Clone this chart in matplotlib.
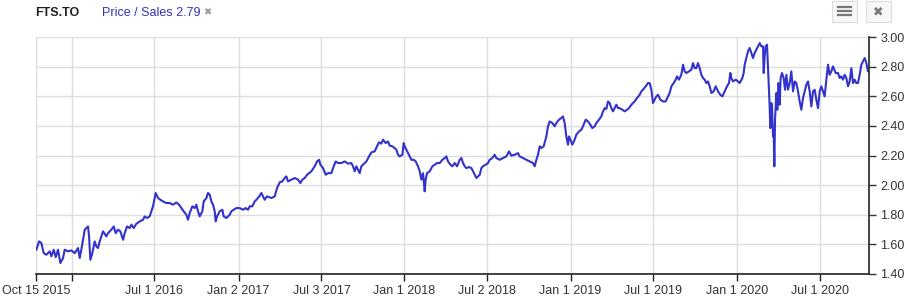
import numpy as np
import pandas as pd
import matplotlib
matplotlib.use("Agg")
import matplotlib.pyplot as plt
import matplotlib.dates as mdates
from matplotlib.patches import Rectangle

# data: days after Oct 15 2015 and the price/sales ratio
start = pd.Timestamp("2015-10-15")

day_offset = [
    0.8, 6.7, 11.8, 16.9, 22.8, 30.1, 33.8, 38.9, 43.3, 48.4, 53.5, 59.4, 63.0, 70.4, 77.7,
    85.0, 92.3, 96.0, 99.6, 103.3, 107.0, 114.3, 116.5, 119.4, 123.8, 128.9, 132.6, 136.2,
    139.9, 147.2, 154.5, 158.2, 165.5, 170.7, 175.0, 180.2, 185.3, 191.2, 194.8, 199.9, 205.8,
    209.5, 214.6, 220.4, 227.8, 235.1, 238.7, 243.9, 249.7, 253.4, 257.0, 262.9, 268.0, 273.2,
    279.0, 286.3, 293.6, 301.0, 308.3, 314.1, 319.3, 324.4, 330.3, 333.9, 337.6, 343.4, 348.6,
    352.2, 355.9, 359.5, 365.4, 368.3, 374.2, 377.8, 381.5, 385.2, 388.8, 392.5, 394.7, 397.6,
    403.5, 409.3, 412.3, 418.1, 425.4, 429.1, 434.2, 440.1, 447.4, 454.7, 460.6, 465.7, 469.4,
    475.2, 480.3, 484.0, 491.3, 495.0, 498.6, 502.3, 507.4, 516.9, 524.3, 529.4, 535.3, 541.1,
    546.2, 549.9, 553.5, 560.9, 568.2, 575.5, 580.6, 585.0, 590.2, 595.3, 599.7, 604.8, 612.1,
    617.3, 621.7, 624.6, 630.4, 636.3, 641.4, 648.7, 653.8, 658.2, 663.3, 670.7, 678.0, 685.3,
    692.6, 696.3, 700.0, 703.6, 707.3, 711.0, 714.6, 718.3, 725.6, 731.5, 736.6, 743.9, 749.0,
    753.4, 758.5, 762.2, 768.1, 773.2, 776.9, 782.7, 787.8, 791.5, 795.2, 798.8, 804.7, 807.6,
    809.8, 813.5, 817.1, 820.8, 824.5, 829.6, 834.0, 839.1, 842.8, 846.4, 850.1, 853.7, 855.9,
    858.9, 864.7, 870.6, 875.7, 880.9, 886.7, 892.6, 897.7, 901.3, 905.0, 910.1, 914.5, 919.6,
    924.8, 930.6, 934.3, 938.0, 941.6, 945.3, 951.2, 956.3, 959.9, 963.6, 967.3, 970.9, 974.6,
    978.2, 981.8, 987.7, 992.8, 996.5, 1002.3, 1007.4, 1011.1, 1018.4, 1025.7, 1033.1, 1038.9,
    1044.0, 1051.4, 1058.7, 1062.3, 1069.7, 1077.0, 1084.3, 1091.6, 1095.3, 1099.0, 1102.6,
    1106.3, 1109.9, 1115.1, 1120.9, 1124.6, 1128.2, 1134.1, 1139.2, 1142.9, 1148.7, 1153.9,
    1157.5, 1161.2, 1164.8, 1168.5, 1170.7, 1173.6, 1178.0, 1183.1, 1186.8, 1192.7, 1197.8,
    1201.4, 1207.3, 1212.4, 1217.6, 1221.9, 1227.1, 1230.7, 1236.6, 1241.7, 1245.4, 1249.0,
    1252.7, 1256.4, 1260.0, 1263.7, 1267.3, 1271.0, 1274.7, 1278.3, 1282.0, 1287.9, 1293.0,
    1298.1, 1302.5, 1307.6, 1314.9, 1320.1, 1325.9, 1329.6, 1333.2, 1339.1, 1344.2, 1347.9,
    1351.5, 1355.2, 1358.9, 1362.5, 1366.2, 1371.3, 1377.2, 1383.0, 1388.1, 1391.8, 1395.5,
    1400.6, 1405.0, 1407.9, 1412.3, 1417.4, 1421.1, 1424.7, 1428.4, 1434.3, 1439.4, 1443.1,
    1446.7, 1450.4, 1454.0, 1457.7, 1461.4, 1465.0, 1468.7, 1472.3, 1476.0, 1479.7, 1483.3,
    1488.4, 1492.8, 1498.0, 1503.1, 1507.5, 1512.6, 1517.7, 1522.1, 1525.1, 1527.2, 1530.9,
    1536.8, 1541.9, 1545.5, 1551.4, 1554.3, 1556.5, 1560.2, 1563.8, 1567.5, 1571.2, 1574.8,
    1578.5, 1582.2, 1585.8, 1589.5, 1593.1, 1596.8, 1598.3, 1600.4, 1602.6, 1605.6, 1607.8,
    1610.0, 1611.4, 1612.9, 1615.1, 1616.6, 1618.8, 1620.2, 1621.7, 1623.2, 1624.6, 1626.1,
    1628.3, 1630.5, 1631.9, 1633.4, 1635.6, 1638.5, 1642.2, 1645.1, 1648.1, 1651.7, 1655.4,
    1659.0, 1662.7, 1666.4, 1670.0, 1673.7, 1677.3, 1681.0, 1684.7, 1688.3, 1692.0, 1695.6,
    1699.3, 1703.0, 1706.6, 1710.3, 1713.9, 1717.6, 1721.3, 1724.9, 1728.6, 1732.2, 1735.9,
    1739.6, 1743.2, 1746.9, 1750.5, 1756.4, 1761.5, 1765.2, 1768.9, 1772.5, 1776.2, 1779.8,
    1783.5, 1787.1, 1790.8, 1794.5, 1798.1, 1801.8, 1805.4, 1809.1, 1812.8, 1816.4, 1820.1,
    1823.7, 1827.4, 1829.6,
]

ps_ratio = [
    1.564, 1.620, 1.609, 1.541, 1.530, 1.553, 1.519, 1.564, 1.514, 1.564, 1.474, 1.508, 1.564,
    1.553, 1.559, 1.541, 1.575, 1.508, 1.564, 1.631, 1.699, 1.721, 1.654, 1.496, 1.541, 1.620,
    1.586, 1.575, 1.620, 1.688, 1.654, 1.676, 1.699, 1.721, 1.676, 1.699, 1.688, 1.631, 1.676,
    1.721, 1.710, 1.733, 1.710, 1.739, 1.755, 1.766, 1.789, 1.778, 1.789, 1.823, 1.857, 1.947,
    1.913, 1.901, 1.890, 1.879, 1.879, 1.868, 1.883, 1.868, 1.845, 1.823, 1.800, 1.766, 1.812,
    1.857, 1.845, 1.868, 1.823, 1.789, 1.823, 1.890, 1.913, 1.947, 1.935, 1.890, 1.868, 1.823,
    1.755, 1.789, 1.823, 1.834, 1.789, 1.778, 1.800, 1.823, 1.834, 1.845, 1.845, 1.834, 1.845,
    1.834, 1.857, 1.857, 1.890, 1.901, 1.928, 1.947, 1.924, 1.901, 1.924, 1.913, 1.924, 1.980,
    2.019, 2.025, 2.048, 2.059, 2.025, 2.037, 2.048, 2.037, 2.014, 2.037, 2.048, 2.070, 2.081,
    2.093, 2.127, 2.160, 2.171, 2.138, 2.115, 2.070, 2.081, 2.081, 2.127, 2.160, 2.149, 2.149,
    2.160, 2.145, 2.149, 2.127, 2.093, 2.127, 2.104, 2.081, 2.127, 2.138, 2.160, 2.194, 2.221,
    2.228, 2.262, 2.289, 2.280, 2.307, 2.284, 2.295, 2.266, 2.262, 2.250, 2.239, 2.205, 2.194,
    2.205, 2.284, 2.262, 2.239, 2.216, 2.194, 2.171, 2.171, 2.160, 2.127, 2.093, 2.037, 2.081,
    1.958, 2.037, 2.081, 2.093, 2.127, 2.138, 2.149, 2.149, 2.171, 2.183, 2.194, 2.160, 2.138,
    2.127, 2.149, 2.127, 2.171, 2.183, 2.149, 2.127, 2.115, 2.122, 2.115, 2.093, 2.070, 2.048,
    2.059, 2.070,
    2.115, 2.127, 2.138, 2.149, 2.171, 2.183, 2.205, 2.183, 2.171, 2.183, 2.194, 2.228, 2.199,
    2.205, 2.216, 2.194, 2.183, 2.171, 2.160, 2.149, 2.127, 2.171, 2.205, 2.262, 2.250, 2.262,
    2.329, 2.397, 2.430, 2.419, 2.397, 2.419, 2.442, 2.453, 2.464, 2.419, 2.329, 2.273, 2.329,
    2.307, 2.273, 2.307, 2.340, 2.363, 2.374, 2.397, 2.442, 2.430, 2.408, 2.385, 2.397, 2.419,
    2.442, 2.464, 2.498, 2.520, 2.514, 2.565, 2.554, 2.520, 2.498, 2.520, 2.543, 2.520, 2.520,
    2.509, 2.498, 2.509, 2.520, 2.543, 2.565, 2.588, 2.610, 2.633, 2.644, 2.667, 2.689, 2.689,
    2.644, 2.554, 2.577, 2.599, 2.610, 2.577, 2.565, 2.565, 2.599, 2.622, 2.667, 2.689, 2.712,
    2.734, 2.712, 2.745, 2.813, 2.768, 2.757, 2.768, 2.779, 2.824, 2.790, 2.790, 2.824, 2.790,
    2.745, 2.723, 2.712, 2.689, 2.700, 2.667, 2.622, 2.633, 2.667, 2.633, 2.610, 2.599, 2.633,
    2.667, 2.689, 2.757, 2.723, 2.700, 2.712, 2.700, 2.689, 2.723, 2.757, 2.813, 2.858, 2.903,
    2.926, 2.892, 2.858, 2.892, 2.914, 2.937, 2.959, 2.937, 2.937, 2.757, 2.869, 2.937, 2.948,
    2.790, 2.644, 2.532, 2.385, 2.554, 2.532, 2.329, 2.352, 2.127, 2.442, 2.532, 2.622, 2.509,
    2.689, 2.667, 2.543, 2.723, 2.757, 2.723, 2.644, 2.745, 2.644, 2.689, 2.768, 2.633, 2.700,
    2.689, 2.633, 2.565, 2.509, 2.588, 2.633, 2.678, 2.700, 2.633, 2.532, 2.633, 2.644, 2.577,
    2.520, 2.633, 2.667, 2.633, 2.599, 2.712, 2.813, 2.745, 2.768, 2.802, 2.757, 2.757, 2.723,
    2.734, 2.712, 2.745, 2.723, 2.667, 2.700, 2.790, 2.689, 2.712, 2.689, 2.689, 2.745, 2.813,
    2.835, 2.858, 2.824, 2.768, 2.770,
]

tick_dates = ["2015-10-15", "2016-01-01", "2016-07-01", "2017-01-02", "2017-07-03",
              "2018-01-01", "2018-07-02", "2019-01-01", "2019-07-01", "2020-01-01", "2020-07-01"]
tick_labels = ["Oct 15 2015", "", "Jul 1 2016", "Jan 2 2017", "Jul 3 2017", "Jan 1 2018",
               "Jul 2 2018", "Jan 1 2019", "Jul 1 2019", "Jan 1 2020", "Jul 1 2020"]
y_ticks = [1.40, 1.60, 1.80, 2.00, 2.20, 2.40, 2.60, 2.80, 3.00]

plt.rcParams['font.family'] = ['Liberation Sans', 'DejaVu Sans']

dates = start + pd.to_timedelta(day_offset, unit='D')

fig = plt.figure(figsize=(9.15, 3.01), dpi=100)
ax = fig.add_axes([36 / 915, 27 / 301, 833 / 915, 237 / 301])

ax.plot(dates, ps_ratio, color='#3333cc', lw=1.5, solid_joinstyle='round')

ax.set_xlim(start, start + pd.Timedelta(days=1829.6))
ax.set_ylim(1.40, 3.00)

ax.set_xticks(pd.to_datetime(tick_dates))
ax.set_xticklabels(tick_labels)
ax.set_yticks(y_ticks)
ax.set_yticklabels(['%.2f' % v for v in y_ticks])

ax.yaxis.tick_right()
ax.tick_params(axis='y', direction='out', length=5, width=1, colors='#333333',
               labelsize=9, pad=3, labelcolor='#333333')
ax.tick_params(axis='x', direction='out', length=5, width=1, colors='#222222',
               labelsize=9, pad=3, labelcolor='#333333')

ax.grid(True, color='#dddddd', lw=1)
ax.set_axisbelow(True)
for s in ['top', 'left']:
    ax.spines[s].set_visible(False)
ax.spines['right'].set_color('#222222')
ax.spines['bottom'].set_color('#222222')
ax.spines['right'].set_linewidth(1.2)
ax.spines['bottom'].set_linewidth(1.2)

# header
fig.text(35 / 915, 1 - 13 / 301, 'FTS.TO', fontsize=9, fontweight='bold', color='#222222',
         va='center')
fig.text(102 / 915, 1 - 13 / 301, 'Price / Sales 2.79', fontsize=9, color='#3333bb',
         va='center')
fig.text(203 / 915, 1 - 12 / 301, '\u2716', fontsize=7, color='#999999', va='center',
         family=['DejaVu Sans'])

# menu and close buttons
for x0 in [832, 866]:
    fig.patches.append(Rectangle((x0 / 915, 1 - 22 / 301), 25 / 915, 21 / 301,
                                 transform=fig.transFigure, facecolor='#f7f7f7',
                                 edgecolor='#dddddd', lw=0.8))
for yy in [7, 11, 15]:
    fig.lines.append(plt.Line2D([838 / 915, 851 / 915], [1 - yy / 301, 1 - yy / 301],
                                transform=fig.transFigure, color='#777777', lw=1.6))
fig.text(878.5 / 915, 1 - 11.5 / 301, '\u2716', fontsize=9, color='#777777', ha='center',
         va='center', family=['DejaVu Sans'])

fig.savefig('out.png', dpi=100)
